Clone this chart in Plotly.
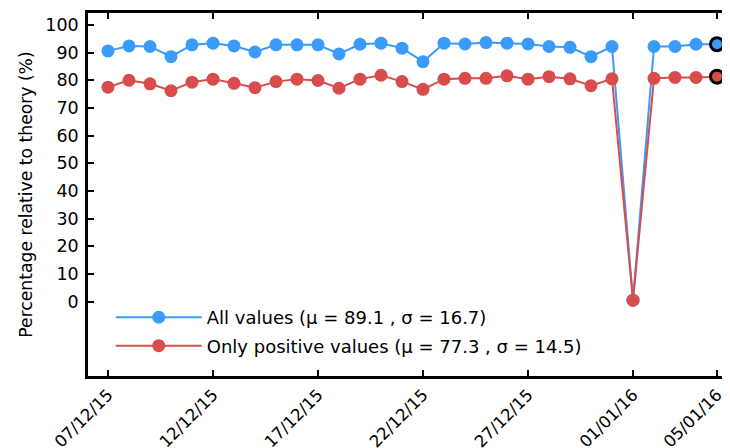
import plotly.graph_objects as go
import pandas as pd

dates = list(pd.date_range("2015-12-07", periods=30).strftime("%Y-%m-%d"))
all_values = [90.6, 92.4, 92.2, 88.5, 92.8, 93.4, 92.4, 90.2, 92.8, 92.8,
              92.8, 89.5, 93.0, 93.4, 91.6, 86.7, 93.4, 93.1, 93.6, 93.4,
              93.1, 92.2, 91.9, 88.5, 92.2, 0.5, 92.2, 92.2, 93.0, 93.0]
positive_values = [77.5, 80.0, 78.7, 76.2, 79.3, 80.4, 78.9, 77.3, 79.5, 80.4,
                   79.9, 77.1, 80.4, 81.8, 79.5, 76.7, 80.4, 80.7, 80.7, 81.6,
                   80.4, 81.3, 80.5, 78.0, 80.5, 0.5, 80.7, 81.0, 81.0, 81.3]
tick_dates = ["2015-12-07", "2015-12-12", "2015-12-17", "2015-12-22",
              "2015-12-27", "2016-01-01", "2016-01-05"]
tick_labels = ["07/12/15", "12/12/15", "17/12/15", "22/12/15",
               "27/12/15", "01/01/16", "05/01/16"]
y_ticks = [0, 10, 20, 30, 40, 50, 60, 70, 80, 90, 100]
names = ["All values (μ = 89.1 , σ = 16.7)",
         "Only positive values (μ = 77.3 , σ = 14.5)"]

BLUE = "#3a9bfa"
RED = "#d84c4c"
FONT = "DejaVu Sans"

n = len(dates)
outline_w = [0] * (n - 1) + [3]
outline_c = ["rgba(0,0,0,0)"] * (n - 1) + ["black"]

fig = go.Figure()
for i, (vals, col, name) in enumerate([(all_values, BLUE, names[0]),
                                       (positive_values, RED, names[1])]):
    fig.add_trace(go.Scatter(
        x=dates, y=vals, mode="lines+markers", name=name, legendgroup=f"g{i}",
        line=dict(color=col, width=2),
        marker=dict(color=col, size=13, line=dict(width=outline_w, color=outline_c)),
    ))

fig.update_layout(
    width=730, height=448,
    margin=dict(l=80, r=0, t=5, b=80),
    paper_bgcolor="white", plot_bgcolor="white",
    font=dict(family=FONT, size=17, color="black"),
    showlegend=True,
    legend=dict(x=0.035, y=0.212, xanchor="left", yanchor="top",
                bgcolor="rgba(0,0,0,0)", font=dict(size=18, family=FONT),
                itemwidth=86, traceorder="grouped", tracegroupgap=2),
    xaxis=dict(type="date", range=["2015-12-06 01:09", "2016-01-06 00:00"],
               tickvals=tick_dates, ticktext=tick_labels, tickangle=-45,
               ticks="inside", ticklen=6, tickwidth=2, tickcolor="black",
               showline=True, linecolor="black", linewidth=2.5, mirror="ticks",
               showgrid=False, zeroline=False, automargin=False,
               tickfont=dict(size=16.5, family=FONT)),
    yaxis=dict(range=[-26.9, 104.3], tickvals=y_ticks,
               ticks="inside", ticklen=6, tickwidth=2, tickcolor="black",
               showline=True, linecolor="black", linewidth=2.5, mirror=False,
               showgrid=False, zeroline=False, automargin=False,
               ticklabelstandoff=3,
               title=dict(text="Percentage relative to theory (%)",
                          font=dict(size=17.2, family=FONT), standoff=9),
               tickfont=dict(size=17.5, family=FONT)),
)

fig.write_html("out.html")
